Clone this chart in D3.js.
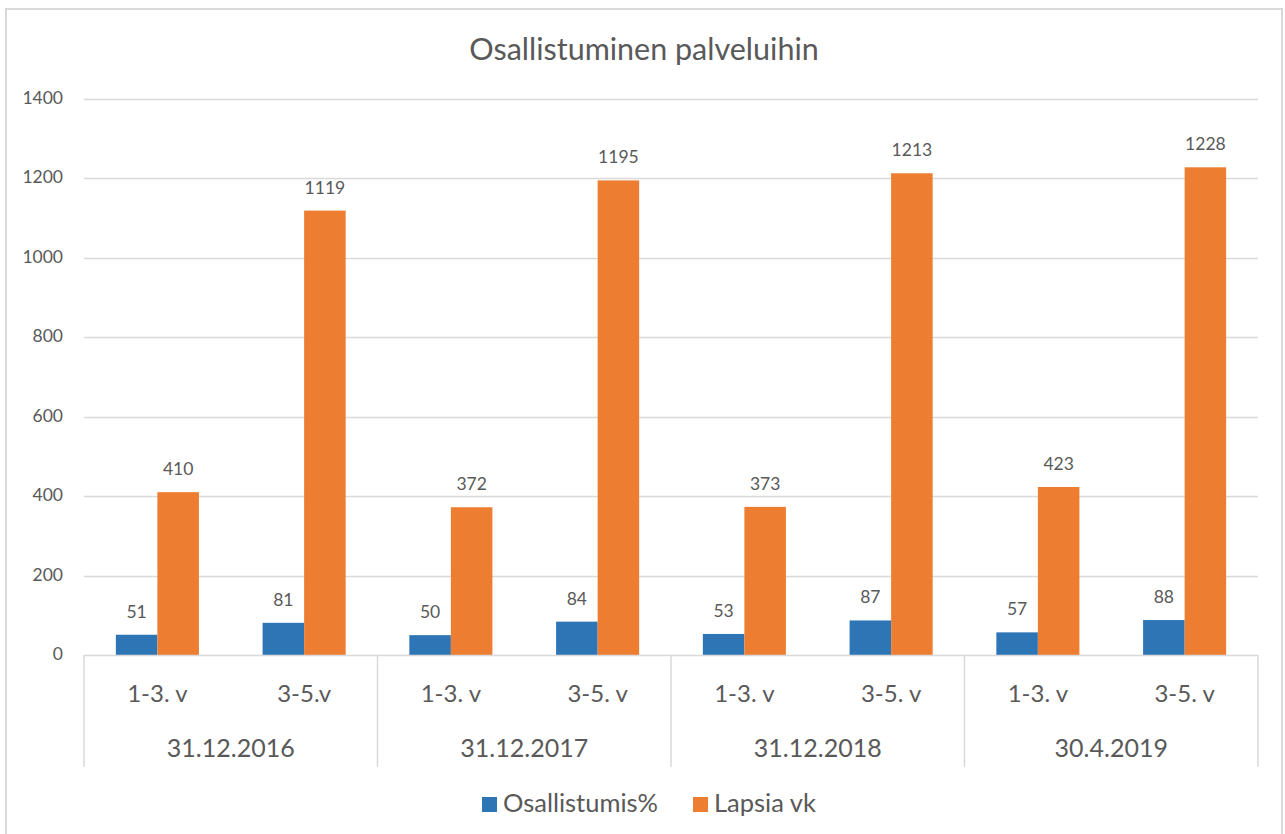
<!DOCTYPE html>
<html>
<head>
<meta charset="utf-8">
<script src="https://cdn.jsdelivr.net/npm/d3@7"></script>
<style>
  html, body { margin: 0; padding: 0; background: #ffffff; }
  svg { display: block; }
  text { font-family: Lato, "Open Sans", sans-serif; fill: #595959; }
</style>
</head>
<body>
<svg id="chart" width="1285" height="834"></svg>
<script>
// ---- data ----
const title = "Osallistuminen palveluihin";
const dates = ["31.12.2016", "31.12.2017", "31.12.2018", "30.4.2019"];
const subLabels = ["1-3. v", "3-5.v", "1-3. v", "3-5. v", "1-3. v", "3-5. v", "1-3. v", "3-5. v"];
const seriesNames = ["Osallistumis%", "Lapsia vk"];
const osallistumis = [51, 81, 50, 84, 53, 87, 57, 88];
const lapsia = [410, 1119, 372, 1195, 373, 1213, 423, 1228];
const yTicks = [0, 200, 400, 600, 800, 1000, 1200, 1400];
const colors = ["#2E75B6", "#ED7D31"];

// ---- layout ----
const svg = d3.select("#chart");
const plotL = 84, plotR = 1258, plotT = 99, plotB = 655;

svg.append("rect").attr("x", 6).attr("y", 9).attr("width", 1276).attr("height", 840)
  .attr("fill", "#ffffff").attr("stroke", "#D9D9D9").attr("stroke-width", 2);

const idx = d3.range(subLabels.length);
const x = d3.scaleBand().domain(idx).range([plotL, plotR]).paddingInner(0.434).paddingOuter(0.217);
const xs = d3.scaleBand().domain([0, 1]).range([0, x.bandwidth()]);
const y = d3.scaleLinear().domain([0, 1400]).range([plotB, plotT]);

// title
svg.append("text").attr("x", 644).attr("y", 60).attr("text-anchor", "middle")
  .style("font-size", "30.5px").text(title);

// gridlines
svg.append("g").selectAll("line").data(yTicks.filter(d => d > 0)).join("line")
  .attr("x1", plotL).attr("x2", plotR)
  .attr("y1", d => Math.round(y(d)) + 0.5).attr("y2", d => Math.round(y(d)) + 0.5)
  .attr("stroke", "#D9D9D9").attr("stroke-width", 1.5);

// y axis labels
svg.append("g").selectAll("text").data(yTicks).join("text")
  .attr("x", 63).attr("y", d => y(d) + 5).attr("text-anchor", "end")
  .style("font-size", "17.5px").text(d => d);

// bars
const series = [osallistumis, lapsia];
series.forEach((vals, s) => {
  const g = svg.append("g");
  g.selectAll("rect").data(vals).join("rect")
    .attr("x", (d, i) => x(i) + xs(s))
    .attr("width", xs.bandwidth())
    .attr("y", d => y(d))
    .attr("height", d => y(0) - y(d))
    .attr("fill", colors[s]);
  g.selectAll("text").data(vals).join("text")
    .attr("x", (d, i) => x(i) + xs(s) + xs.bandwidth() / 2)
    .attr("y", d => y(d) - 17)
    .attr("text-anchor", "middle")
    .style("font-size", "17.5px")
    .text(d => d);
});

// category axis
svg.append("line").attr("x1", plotL).attr("x2", plotR).attr("y1", plotB + 0.5).attr("y2", plotB + 0.5)
  .attr("stroke", "#D9D9D9").attr("stroke-width", 1.5);
const groupEdges = d3.range(dates.length + 1).map(i => plotL + i * 2 * x.step());
svg.append("g").selectAll("line").data(groupEdges).join("line")
  .attr("x1", d => d).attr("x2", d => d).attr("y1", plotB).attr("y2", 767)
  .attr("stroke", "#D9D9D9").attr("stroke-width", 1.5);

svg.append("g").selectAll("text").data(subLabels).join("text")
  .attr("x", (d, i) => x(i) + x.bandwidth() / 2).attr("y", 702)
  .attr("text-anchor", "middle").style("font-size", "24px").text(d => d);

svg.append("g").selectAll("text").data(dates).join("text")
  .attr("x", (d, i) => (groupEdges[i] + groupEdges[i + 1]) / 2).attr("y", 757)
  .attr("text-anchor", "middle").style("font-size", "25px").text(d => d);

// legend
const legendX = [482, 693];
seriesNames.forEach((name, s) => {
  svg.append("rect").attr("x", legendX[s]).attr("y", 797).attr("width", 15).attr("height", 15)
    .attr("fill", colors[s]);
  svg.append("text").attr("x", legendX[s] + 21).attr("y", 812)
    .style("font-size", "25.5px").text(name);
});
</script>
</body>
</html>
